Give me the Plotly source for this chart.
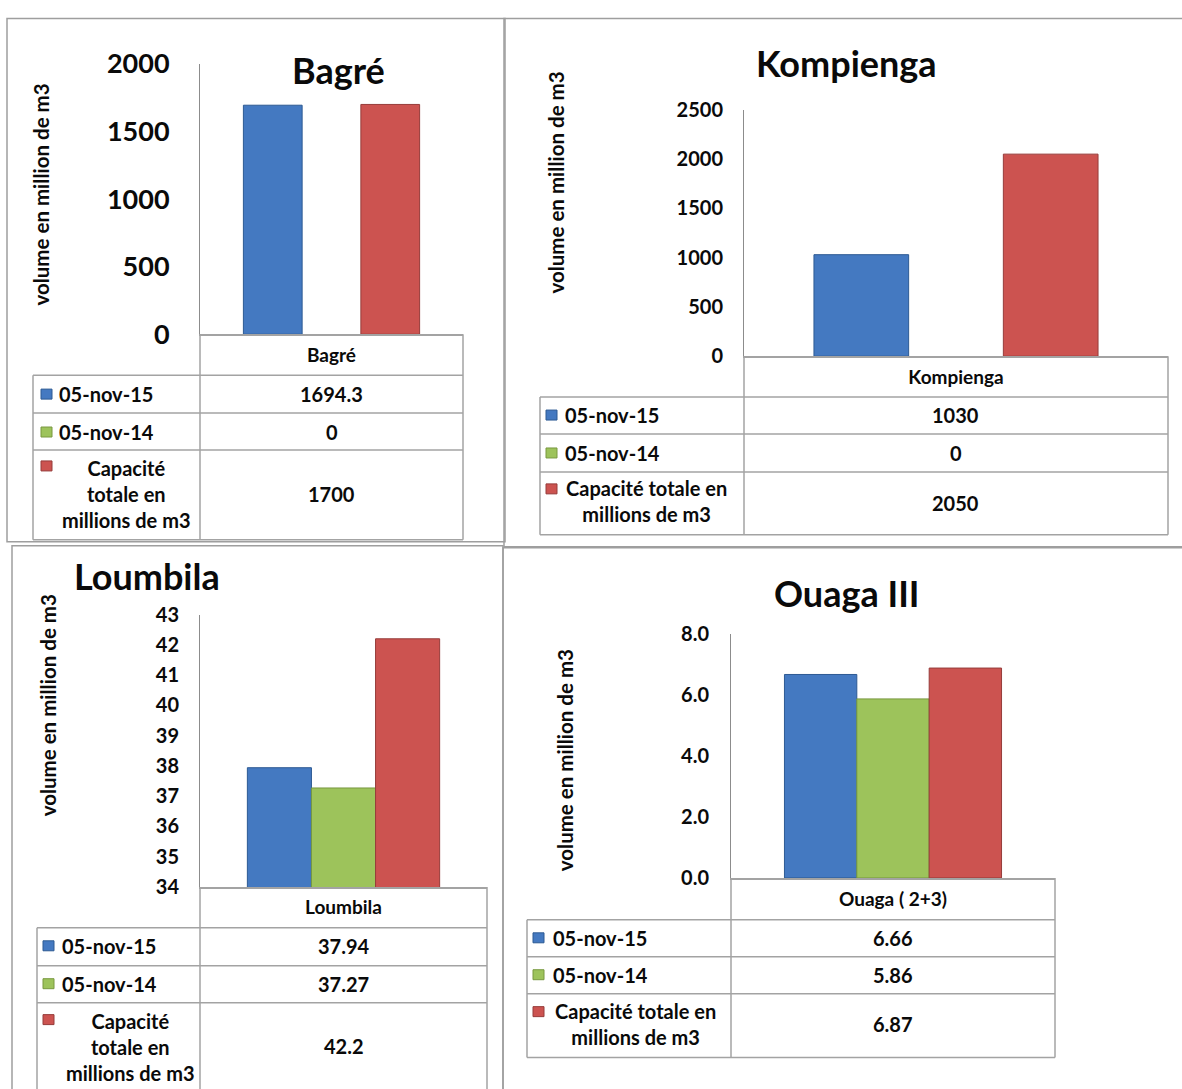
import plotly.graph_objects as go

W, H = 1182, 1089

# ---- data -------------------------------------------------------------
reservoirs = ["Bagré", "Kompienga", "Loumbila", "Ouaga III"]
categories = ["Bagré", "Kompienga", "Loumbila", "Ouaga ( 2+3)"]
series_names = ["05-nov-15", "05-nov-14", "Capacité totale en millions de m3"]
vol_2015 = [1694.3, 1030, 37.94, 6.66]
vol_2014 = [0, 0, 37.27, 5.86]
capacity = [1700, 2050, 42.2, 6.87]
y_ranges = [[0, 2000], [0, 2500], [34, 43], [0, 8]]
y_dticks = [500, 500, 1, 2]
y_formats = ["d", "d", "d", ".1f"]
y_title = "volume en million de m3"

series_values = [vol_2015, vol_2014, capacity]
colors = ["#4479C1", "#9DC35B", "#CC5350"]
edges = ["#2D5A93", "#78983F", "#963C3A"]

FONT = "Lato"
INK = "#0A0A0A"
GRID = "#A3A3A3"

# ---- page geometry (screen pixels) ------------------------------------
panels = [
    dict(plot=(200, 463, 62, 333), tick=27, stand=24, title=(338, 68),
         ytitle=(41, 193), left=33, rows=[374, 412, 449, 539],
         mark_x=41, label_x=57, row_y=[393, 431], cap_y=493, cap_x=126,
         cap_lines=3, cap_mark_y=465, val_y=[393, 431, 493]),
    dict(plot=(744, 1168, 108, 355), tick=20, stand=16, title=(846, 61),
         ytitle=(556, 181), left=540, rows=[396, 433, 471, 534],
         mark_x=546, label_x=563, row_y=[414, 452], cap_y=500, cap_x=646,
         cap_lines=2, cap_mark_y=488, val_y=[414, 452, 502]),
    dict(plot=(200, 487, 614, 887), tick=20, stand=16, title=(147, 575),
         ytitle=(48, 705), left=37, rows=[928, 966, 1003, 1120],
         mark_x=43, label_x=60, row_y=[946, 984], cap_y=1047, cap_x=130,
         cap_lines=3, cap_mark_y=1020, val_y=[946, 984, 1046]),
    dict(plot=(731, 1055, 633, 878), tick=20, stand=17, title=(846, 592),
         ytitle=(565, 760), left=527, rows=[920, 957, 994, 1058],
         mark_x=533, label_x=551, row_y=[938, 975], cap_y=1024, cap_x=636,
         cap_lines=2, cap_mark_y=1012, val_y=[938, 975, 1024]),
]

# outer frames of the four chart objects: (x0, y0, x1, y1)
frames = [(7, 13, 505, 541), (504, 16, 1190, 546),
          (12, 545, 503, 1120), (503, 547, 1190, 1120)]

# vertical mapping from screen pixels to figure pixels
Y_OFFSET, Y_SCALE = 16.0, 0.972


def px(x):
    return x / W


def py(y):
    yd = (y - Y_OFFSET) / Y_SCALE
    return min(max(1 - yd / H, -0.05), 0.9995)


def fmt(v):
    return f"{v:g}"


fig = go.Figure()
shapes = []
annotations = []
layout_axes = {}

for i, p in enumerate(panels):
    n = "" if i == 0 else str(i + 1)
    xa, ya = "x" + n, "y" + n
    x0, x1, ytop, ybase = p["plot"]

    for s in range(3):
        v = series_values[s][i]
        fig.add_trace(go.Bar(
            x=[categories[i]], y=[v], name=series_names[s],
            xaxis=xa, yaxis=ya, showlegend=False,
            marker=dict(color=colors[s],
                        line=dict(color=edges[s], width=1 if v else 0)),
        ))

    layout_axes["xaxis" + n] = dict(
        domain=[px(x0), px(x1)], anchor=ya, showline=True, linecolor=GRID,
        linewidth=1.5, ticks="", showgrid=False, zeroline=False,
        tickfont=dict(family=FONT, size=19, color=INK, weight="bold"),
        ticklabelstandoff=3, fixedrange=True,
    )
    layout_axes["yaxis" + n] = dict(
        domain=[py(ybase), py(ytop)], anchor=xa, range=y_ranges[i],
        dtick=y_dticks[i], tick0=y_ranges[i][0], tickformat=y_formats[i],
        showline=True, linecolor="#8C8C8C", linewidth=1, ticks="",
        showgrid=False, zeroline=False, fixedrange=True,
        tickfont=dict(family=FONT, size=p["tick"], color=INK, weight="bold"),
        ticklabelstandoff=p["stand"],
    )

    # chart title and rotated axis title
    annotations.append(dict(
        x=px(p["title"][0]), y=py(p["title"][1]), xref="paper", yref="paper",
        text=reservoirs[i], showarrow=False, xanchor="center", yanchor="middle",
        font=dict(family=FONT, size=36, color=INK, weight="bold")))
    annotations.append(dict(
        x=px(p["ytitle"][0]), y=py(p["ytitle"][1]), xref="paper", yref="paper",
        text=y_title, textangle=-90, showarrow=False,
        xanchor="center", yanchor="middle",
        font=dict(family=FONT, size=20.5, color=INK, weight="bold")))

    # data table grid
    left = p["left"]
    r = p["rows"]
    line = dict(color=GRID, width=1.5)
    shapes.append(dict(type="line", xref="paper", yref="paper", x0=px(x0), x1=px(x0),
                       y0=py(ybase), y1=py(r[3]), line=line))
    shapes.append(dict(type="line", xref="paper", yref="paper", x0=px(x1), x1=px(x1),
                       y0=py(ybase), y1=py(r[3]), line=line))
    shapes.append(dict(type="line", xref="paper", yref="paper", x0=px(left), x1=px(left),
                       y0=py(r[0]), y1=py(r[3]), line=line))
    for ry in r:
        shapes.append(dict(type="line", xref="paper", yref="paper", x0=px(left), x1=px(x1),
                           y0=py(ry), y1=py(ry), line=line))

    # legend keys and row labels
    key_y = [p["row_y"][0], p["row_y"][1], p["cap_mark_y"]]
    for s in range(3):
        shapes.append(dict(type="rect", xref="paper", yref="paper",
                           x0=px(p["mark_x"]), x1=px(p["mark_x"] + 11),
                           y0=py(key_y[s] - 5), y1=py(key_y[s] + 5),
                           fillcolor=colors[s], line=dict(color=edges[s], width=1)))
    for s in range(2):
        annotations.append(dict(
            x=px(p["label_x"]), y=py(p["row_y"][s]), xref="paper", yref="paper",
            text=series_names[s], showarrow=False, xanchor="left", yanchor="middle",
            font=dict(family=FONT, size=20, color=INK, weight="bold")))
    if p["cap_lines"] == 3:
        cap_text = "Capacité<br>totale en<br>millions de m3"
    else:
        cap_text = "Capacité totale en<br>millions de m3"
    annotations.append(dict(
        x=px(p["cap_x"]), y=py(p["cap_y"]), xref="paper", yref="paper",
        text=cap_text, showarrow=False, xanchor="center", yanchor="middle",
        align="center", font=dict(family=FONT, size=20, color=INK, weight="bold")))

    # value column
    for s in range(3):
        annotations.append(dict(
            x=px((x0 + x1) / 2), y=py(p["val_y"][s]), xref="paper", yref="paper",
            text=fmt(series_values[s][i]), showarrow=False,
            xanchor="center", yanchor="middle",
            font=dict(family=FONT, size=20, color=INK, weight="bold")))

for (fx0, fy0, fx1, fy1) in frames:
    shapes.append(dict(type="rect", xref="paper", yref="paper", layer="below",
                       x0=px(fx0), x1=px(fx1), y0=py(fy0), y1=py(fy1),
                       line=dict(color="#9E9E9E", width=1.5), fillcolor="rgba(0,0,0,0)"))

fig.update_layout(
    width=W, height=H, autosize=False,
    margin=dict(l=0, r=0, t=0, b=0),
    paper_bgcolor="white", plot_bgcolor="rgba(0,0,0,0)",
    barmode="group", bargap=0.33, bargroupgap=0,
    shapes=shapes, annotations=annotations,
    **layout_axes,
)

fig.write_html("out.html", config={"displayModeBar": False})
